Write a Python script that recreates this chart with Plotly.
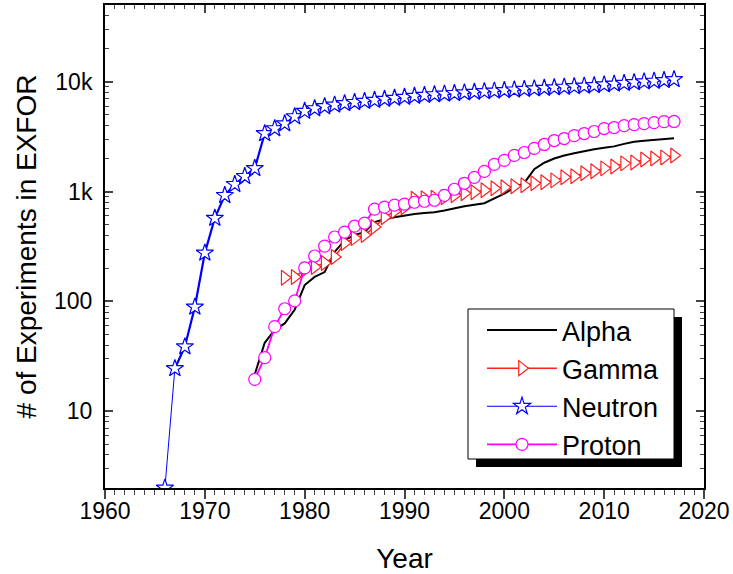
import plotly.graph_objects as go
import numpy as np

# ---------------- data ----------------
neutron_years = list(range(1966, 2018))
neutron_vals = [2, 24.5, 38.7, 89, 276, 573, 925, 1165, 1377, 1626,
                3380, 3750, 4160, 4820, 5400, 5700, 5950, 6150, 6350, 6500,
                6650, 6800, 6950, 7100, 7250, 7400, 7550, 7650, 7750, 7850,
                7950, 8050, 8150, 8250, 8350, 8450, 8550, 8650, 8750, 8850,
                8950, 9050, 9150, 9250, 9400, 9550, 9700, 9850, 10000, 10150,
                10300, 10500]

proton_years = list(range(1975, 2018))
proton_vals = [19.5, 30.8, 58.9, 85.7, 101, 202, 259, 319, 386, 427,
               484, 516, 692, 721, 752, 768, 800, 817, 834, 925,
               1050, 1190, 1349, 1527, 1771, 1923, 2134, 2270, 2472, 2686,
               2917, 3042, 3236, 3378, 3525, 3750, 3830, 3990, 4075, 4160,
               4250, 4330, 4350]

gamma_years = list(range(1978, 2018))
gamma_vals = [164, 167, 194, 206, 224, 254, 340, 377, 402, 475,
              584, 663, 721, 860, 870, 880, 890, 925, 966, 986,
              1029, 1072, 1094, 1117, 1140, 1189, 1214, 1265, 1348, 1377,
              1466, 1529, 1627, 1695, 1807, 1844, 1963, 2005, 2048, 2134]

alpha_years = list(range(1975, 2018))
alpha_vals = [21.6, 42, 55, 63, 84, 141, 167, 185, 282, 361,
              402, 427, 527, 561, 585, 609, 625, 637, 649, 672,
              705, 735, 760, 783, 869, 960, 1080, 1200, 1600, 1830,
              2000, 2130, 2230, 2340, 2430, 2510, 2580, 2720, 2840, 2910,
              2970, 3020, 3060]

x_ticks = [1960, 1970, 1980, 1990, 2000, 2010, 2020]
y_tickvals = [10, 100, 1000, 10000]
y_ticktext = ["10", "100", "1k", "10k"]

FONT = "Liberation Sans, Arial, sans-serif"

fig = go.Figure()

fig.add_trace(go.Scatter(x=alpha_years, y=alpha_vals, mode="lines", name="Alpha",
                         line=dict(color="black", width=2)))
fig.add_trace(go.Scatter(x=gamma_years, y=gamma_vals, mode="lines+markers", name="Gamma",
                         line=dict(color="#ff2020", width=1.5),
                         marker=dict(symbol="triangle-right", size=13, color="white",
                                     line=dict(color="#ff2020", width=1.2))))
fig.add_trace(go.Scatter(x=neutron_years[1:], y=neutron_vals[1:], mode="lines",
                         showlegend=False, hoverinfo="skip",
                         line=dict(color="#0000ff", width=2.2)))
fig.add_trace(go.Scatter(x=neutron_years, y=neutron_vals, mode="lines+markers", name="Neutron",
                         line=dict(color="#0000ff", width=1),
                         marker=dict(symbol="star", size=13, color="white",
                                     line=dict(color="#0000ff", width=1.2))))
fig.add_trace(go.Scatter(x=proton_years, y=proton_vals, mode="lines+markers", name="Proton",
                         line=dict(color="#ff00ff", width=1.8),
                         marker=dict(symbol="circle", size=12, color="white",
                                     line=dict(color="#ff00ff", width=1.2))))
fig.add_trace(go.Scatter(x=[1960, 2020], y=[None, None], xaxis="x2", showlegend=False,
                         hoverinfo="skip", mode="lines"))

ymin, ymax = np.log10(2), np.log10(50000)
minor_y = [m * 10 ** d for d in range(0, 5) for m in range(2, 10) if 2 <= m * 10 ** d <= 50000]

# plot area in pixels: x 105..704, y 5..488
L, R, T, B = 105, 704, 5, 488
W, H = 733, 574
PW, PH = R - L, B - T

def px(x):
    return (x - L) / PW

def py(y):
    return (B - y) / PH

fig.update_layout(
    width=W, height=H,
    margin=dict(l=L, r=W - R, t=T, b=H - B, autoexpand=False),
    paper_bgcolor="white", plot_bgcolor="white",
    font=dict(family=FONT, color="black", size=23),
    xaxis=dict(range=[1960, 2020], tickvals=x_ticks, ticks="outside", ticklen=9, tickwidth=1.5,
               showline=True, linewidth=2, linecolor="black", mirror=True,
               showgrid=False, zeroline=False, automargin=False,
               minor=dict(dtick=1, tick0=1960, ticks="outside", ticklen=5, tickwidth=1.2,
                          showgrid=False),
               tickfont=dict(size=23),
               title=dict(text="Year", font=dict(size=28), standoff=27)),
    xaxis2=dict(range=[1960, 2020], overlaying="x", side="top", tickvals=x_ticks,
                ticks="inside", ticklen=8, tickwidth=1.5, showticklabels=False,
                showline=False, showgrid=False, zeroline=False, automargin=False,
                minor=dict(dtick=1, tick0=1960, ticks="inside", ticklen=4, tickwidth=1.2,
                           showgrid=False)),
    yaxis=dict(type="log", range=[ymin, ymax], tickvals=y_tickvals, ticktext=y_ticktext,
               ticks="inside", ticklen=8, tickwidth=1.5,
               showline=True, linewidth=2, linecolor="black", mirror="ticks",
               showgrid=False, zeroline=False, ticklabelstandoff=6, automargin=False,
               minor=dict(tickvals=minor_y, ticks="inside", ticklen=4, tickwidth=1.2,
                          showgrid=False),
               tickfont=dict(size=23),
               title=dict(text="# of Experiments in EXFOR", font=dict(size=28), standoff=9)),
    legend=dict(x=px(482), y=py(306), xanchor="left", yanchor="top",
                bgcolor="rgba(0,0,0,0)", borderwidth=0,
                font=dict(size=27), itemwidth=70, tracegroupgap=0),
    showlegend=True,
)

try:
    fig.layout.xaxis.ticklabelstandoff = -8
except Exception:
    pass

# legend shadow and box
fig.add_shape(type="rect", xref="paper", yref="paper",
              x0=px(476), x1=px(682), y0=py(467), y1=py(317),
              fillcolor="black", line=dict(width=0), layer="above")
fig.add_shape(type="rect", xref="paper", yref="paper",
              x0=px(468), x1=px(674), y0=py(459), y1=py(309),
              fillcolor="white", line=dict(color="black", width=1), layer="above")

fig.write_html("out.html",
               config={"displayModeBar": False},
               post_script="document.body.style.margin='0px';document.body.style.overflow='hidden';")
